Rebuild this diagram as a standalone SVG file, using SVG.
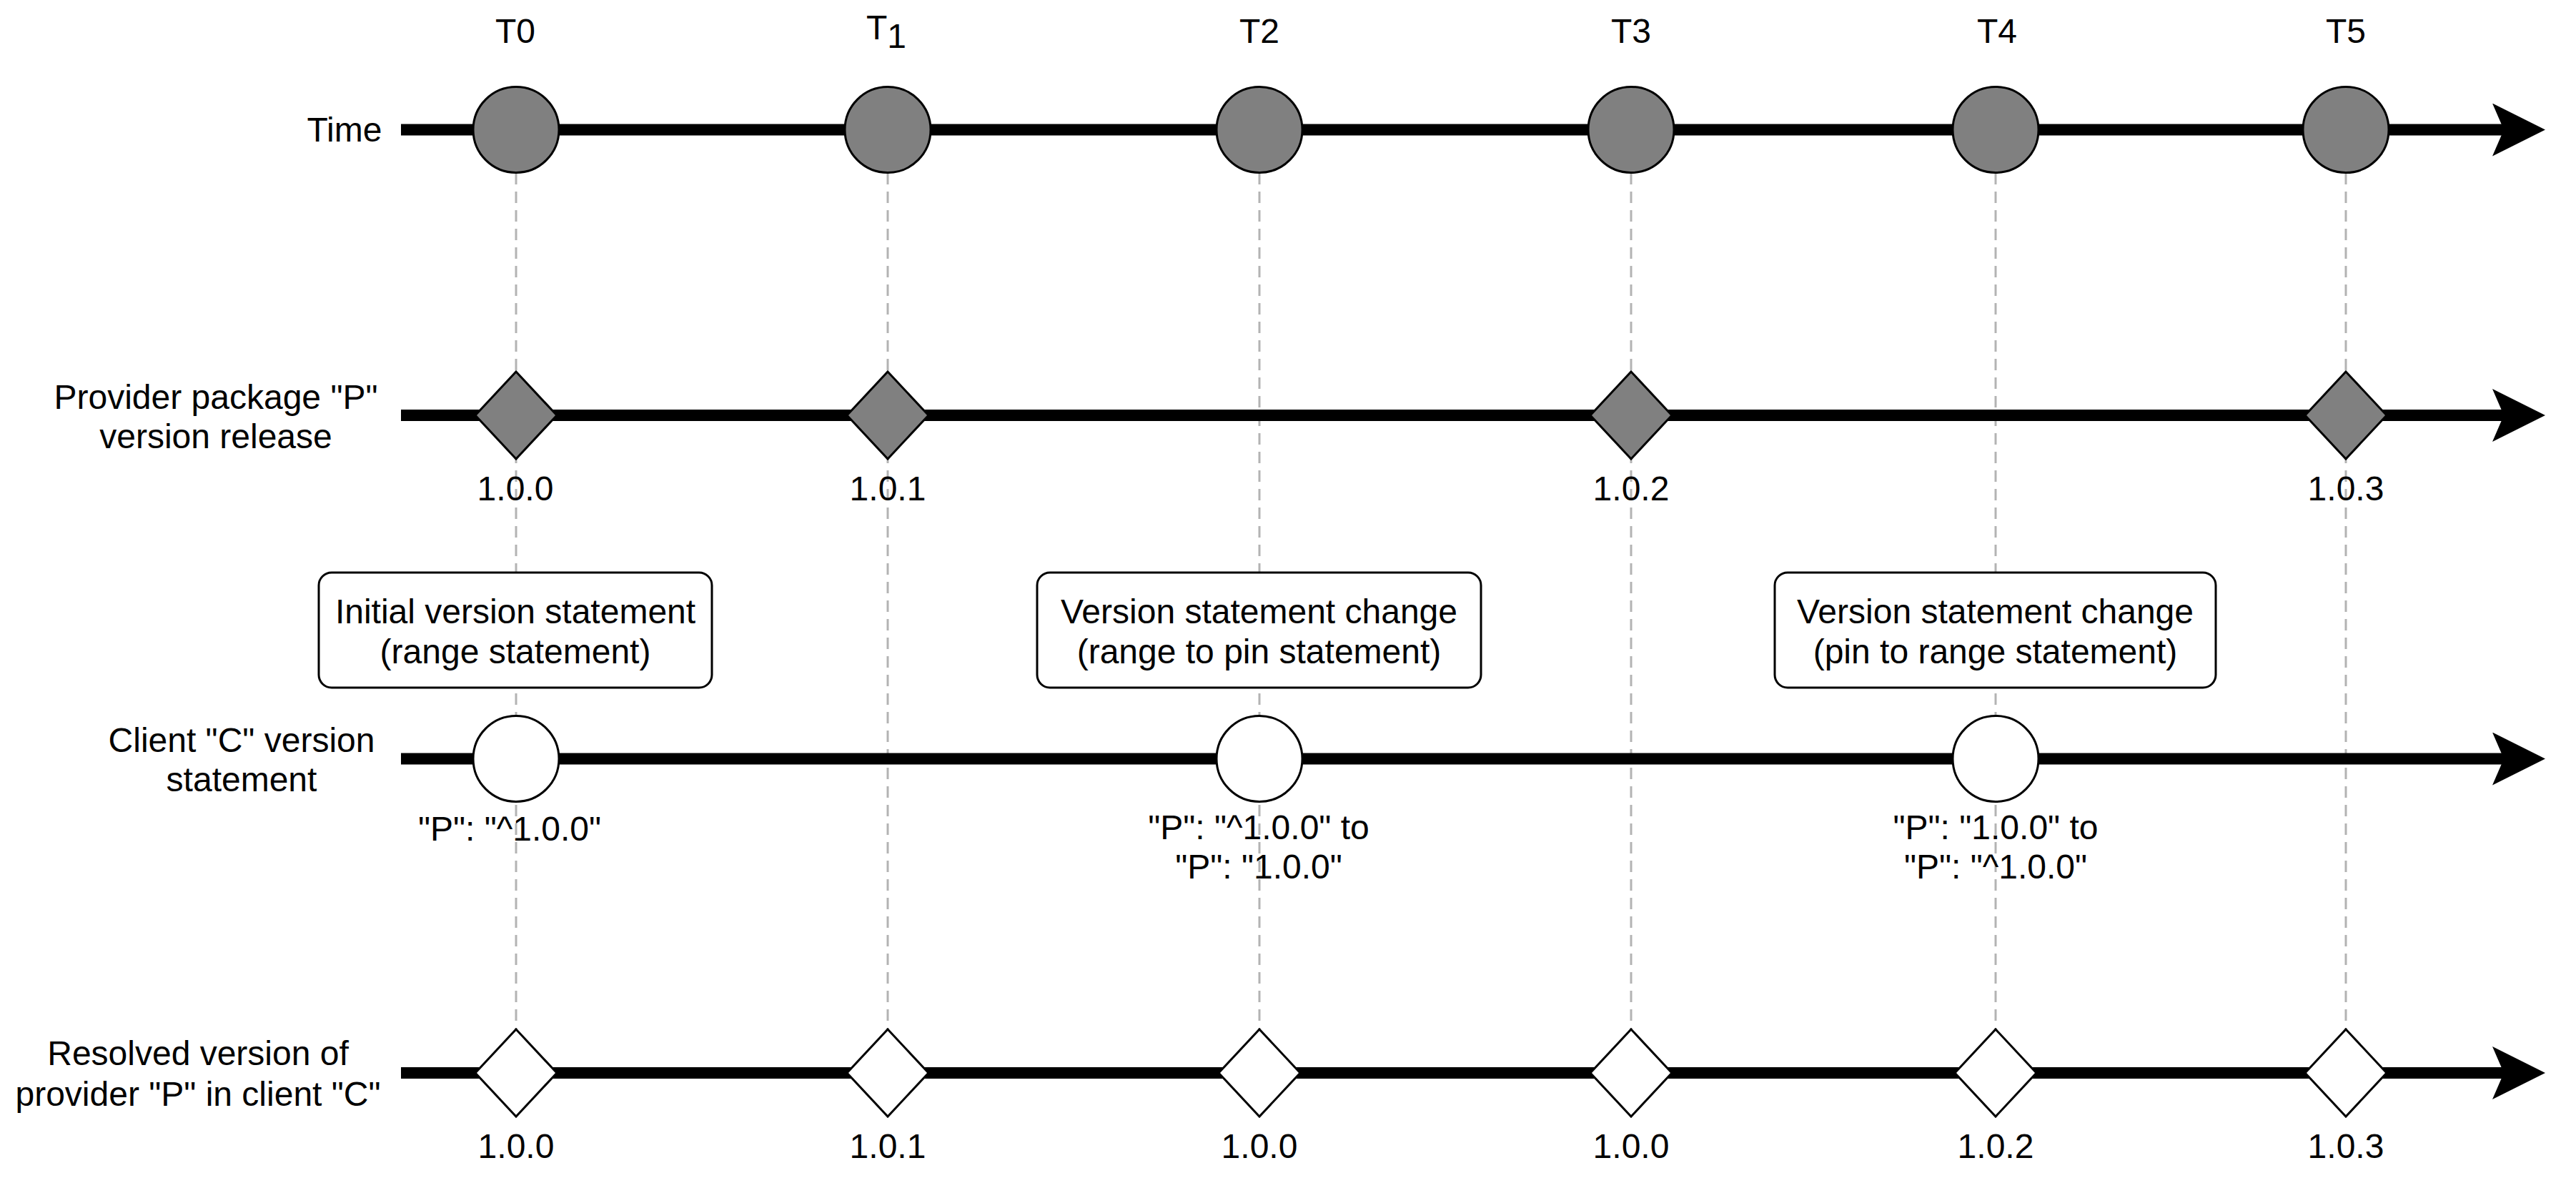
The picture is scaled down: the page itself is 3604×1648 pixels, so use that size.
<svg xmlns="http://www.w3.org/2000/svg" width="3604" height="1648" viewBox="0 0 3604 1648">
<style>
  text { font-family: "Liberation Sans", Arial, Helvetica, sans-serif; font-size: 48px; fill: #000; text-anchor: middle; }
  .axis { stroke: #000; stroke-width: 16; fill: none; }
  .guide { stroke: #B3B3B3; stroke-width: 3; stroke-dasharray: 16 10; fill: none; }
  .gray { fill: #808080; stroke: #000; stroke-width: 3; }
  .white { fill: #FFFFFF; stroke: #000; stroke-width: 3; }
  .box { fill: #FFFFFF; stroke: #000; stroke-width: 3; }
</style>
<defs>
  <marker id="arrow" markerUnits="userSpaceOnUse" viewBox="0 0 74 74" refX="16" refY="37" markerWidth="74" markerHeight="74" orient="auto">
    <path d="M0,0 L74,37 L0,74 L16,37 Z" fill="#000"/>
  </marker>
  <circle id="circ" r="60"/>
  <polygon id="dia" points="0,-61 57,0 0,61 -57,0"/>
</defs>
<rect width="3604" height="1648" fill="#FFFFFF"/>

<g id="connectors">
  <line class="guide" x1="722" y1="242" x2="722" y2="1440"/>
  <line class="guide" x1="1242" y1="242" x2="1242" y2="1440"/>
  <line class="guide" x1="1762" y1="242" x2="1762" y2="1440"/>
  <line class="guide" x1="2282" y1="242" x2="2282" y2="1440"/>
  <line class="guide" x1="2792" y1="242" x2="2792" y2="1440"/>
  <line class="guide" x1="3282" y1="242" x2="3282" y2="1440"/>
  <line class="axis" x1="561" y1="181.5" x2="3503" y2="181.5" marker-end="url(#arrow)"/>
  <line class="axis" x1="561" y1="581" x2="3503" y2="581" marker-end="url(#arrow)"/>
  <line class="axis" x1="561" y1="1061.5" x2="3503" y2="1061.5" marker-end="url(#arrow)"/>
  <line class="axis" x1="561" y1="1501" x2="3503" y2="1501" marker-end="url(#arrow)"/>
</g>

<g id="row-labels">
  <text x="482" y="198">Time</text>
  <text x="302" y="572">Provider package "P"</text>
  <text x="302" y="627">version release</text>
  <text x="338" y="1052">Client "C" version</text>
  <text x="338" y="1107">statement</text>
  <text x="277" y="1490">Resolved version of</text>
  <text x="277" y="1547">provider "P" in client "C"</text>
</g>

<g id="time-labels">
  <text x="721" y="60">T0</text>
  <text x="1240" y="55">T<tspan dy="12">1</tspan></text>
  <text x="1762" y="60">T2</text>
  <text x="2282" y="60">T3</text>
  <text x="2794" y="60">T4</text>
  <text x="3282" y="60">T5</text>
</g>

<g id="time-t0"><use href="#circ" class="gray" x="722" y="181.5"/></g>
<g id="time-t1"><use href="#circ" class="gray" x="1242" y="181.5"/></g>
<g id="time-t2"><use href="#circ" class="gray" x="1762" y="181.5"/></g>
<g id="time-t3"><use href="#circ" class="gray" x="2282" y="181.5"/></g>
<g id="time-t4"><use href="#circ" class="gray" x="2792" y="181.5"/></g>
<g id="time-t5"><use href="#circ" class="gray" x="3282" y="181.5"/></g>

<g id="release-100"><use href="#dia" class="gray" x="722" y="581"/><text x="721" y="700">1.0.0</text></g>
<g id="release-101"><use href="#dia" class="gray" x="1242" y="581"/><text x="1242" y="700">1.0.1</text></g>
<g id="release-102"><use href="#dia" class="gray" x="2282" y="581"/><text x="2282" y="700">1.0.2</text></g>
<g id="release-103"><use href="#dia" class="gray" x="3282" y="581"/><text x="3282" y="700">1.0.3</text></g>

<g id="note-initial">
  <rect class="box" x="446" y="801" width="550" height="161" rx="18" ry="18"/>
  <text x="721" y="872">Initial version statement</text>
  <text x="721" y="928">(range statement)</text>
</g>
<g id="note-range-to-pin">
  <rect class="box" x="1451" y="801" width="621" height="161" rx="18" ry="18"/>
  <text x="1761.5" y="872">Version statement change</text>
  <text x="1761.5" y="928">(range to pin statement)</text>
</g>
<g id="note-pin-to-range">
  <rect class="box" x="2483" y="801" width="617" height="161" rx="18" ry="18"/>
  <text x="2791.5" y="872">Version statement change</text>
  <text x="2791.5" y="928">(pin to range statement)</text>
</g>

<g id="client-t0"><use href="#circ" class="white" x="722" y="1061.5"/><text x="713" y="1176">"P": "^1.0.0"</text></g>
<g id="client-t2"><use href="#circ" class="white" x="1762" y="1061.5"/><text x="1761" y="1174">"P": "^1.0.0" to</text><text x="1761" y="1229">"P": "1.0.0"</text></g>
<g id="client-t4"><use href="#circ" class="white" x="2792" y="1061.5"/><text x="2792" y="1174">"P": "1.0.0" to</text><text x="2792" y="1229">"P": "^1.0.0"</text></g>

<g id="resolved-t0"><use href="#dia" class="white" x="722" y="1501"/><text x="722" y="1620">1.0.0</text></g>
<g id="resolved-t1"><use href="#dia" class="white" x="1242" y="1501"/><text x="1242" y="1620">1.0.1</text></g>
<g id="resolved-t2"><use href="#dia" class="white" x="1762" y="1501"/><text x="1762" y="1620">1.0.0</text></g>
<g id="resolved-t3"><use href="#dia" class="white" x="2282" y="1501"/><text x="2282" y="1620">1.0.0</text></g>
<g id="resolved-t4"><use href="#dia" class="white" x="2792" y="1501"/><text x="2792" y="1620">1.0.2</text></g>
<g id="resolved-t5"><use href="#dia" class="white" x="3282" y="1501"/><text x="3282" y="1620">1.0.3</text></g>
</svg>
